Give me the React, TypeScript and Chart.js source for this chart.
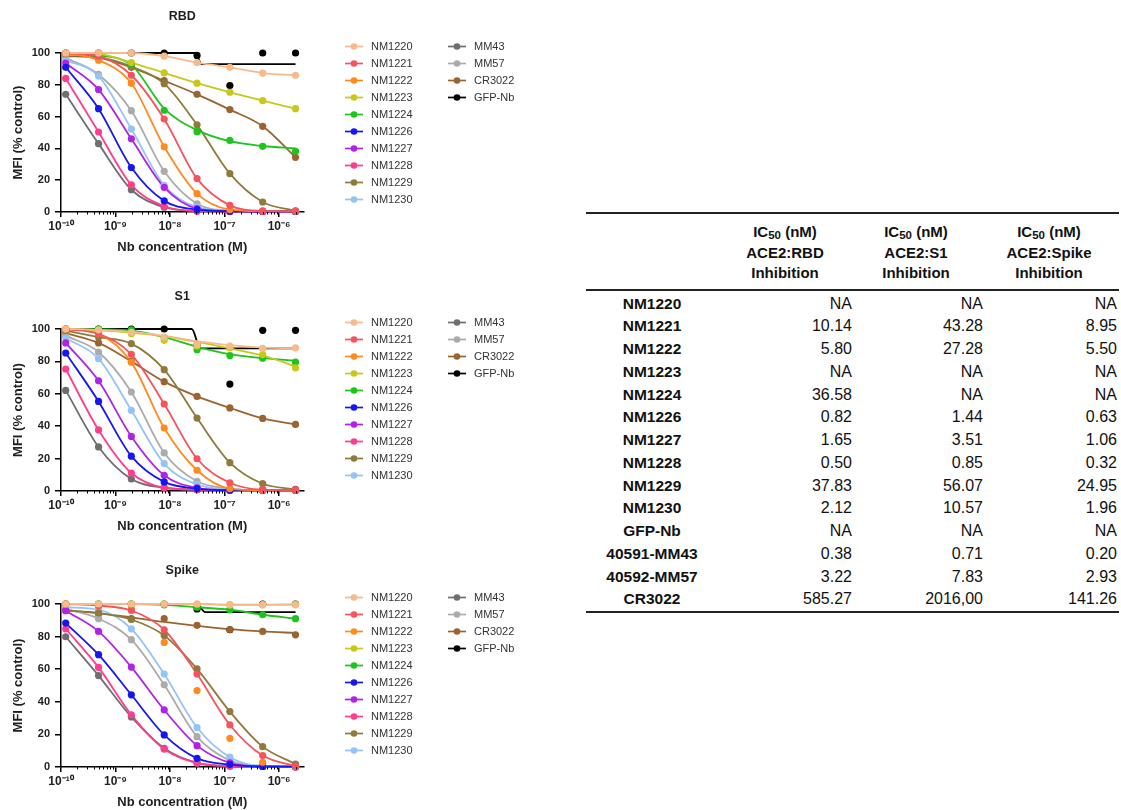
import React, { useEffect, useRef } from 'react';
import { Chart, registerables } from 'chart.js';

Chart.register(...registerables);

const FONT = '"Liberation Sans", Arial, Helvetica, sans-serif';
const TEXT_COLOR = '#1e1e1e';

// ---------- shared axes / series ----------
const CONC = [1.22e-10, 4.88e-10, 1.95e-9, 7.81e-9, 3.125e-8, 1.25e-7, 5e-7, 2e-6];
const X_TICKS = [1e-10, 1e-9, 1e-8, 1e-7, 1e-6];
const X_TICK_LABELS = ['10⁻¹⁰', '10⁻⁹', '10⁻⁸', '10⁻⁷', '10⁻⁶'];
const Y_TICKS = [0, 20, 40, 60, 80, 100];
const X_MIN = 1e-10;
const X_MAX = 2.8e-6;

const SERIES = ['NM1220', 'NM1221', 'NM1222', 'NM1223', 'NM1224', 'NM1226', 'NM1227', 'NM1228', 'NM1229', 'NM1230', 'MM43', 'MM57', 'CR3022', 'GFP-Nb'];
const COLORS = ['#F7BA8C', '#F5535D', '#FF8A1E', '#C8C81C', '#1CC41C', '#1616F0', '#B022E6', '#FF3C8E', '#8E7B3C', '#94C4F7', '#6E6E6E', '#ABABAB', '#9A6430', '#000000'];

// ---------- RBD (% control) ----------
const RBD_NM1220 = [100, 100, 100, 98, 94, 91, 87.4, 86];
const RBD_NM1221 = [100, 98, 86, 58.5, 21, 4.2, 0.6, 0.4];
const RBD_NM1222 = [100, 95.5, 81, 41, 11.5, 1.5, 0.5, 0.4];
const RBD_NM1223 = [100, 99.5, 94, 87.5, 81, 75.3, 70, 65];
const RBD_NM1224 = [100, 98, 93, 64, 50.5, 45, 41.3, 38.2];
const RBD_NM1226 = [91, 65, 28, 7, 1.5, 0.5, 0.3, 0.3];
const RBD_NM1227 = [93.7, 77, 46, 15.5, 2.2, 0.6, 0.3, 0.3];
const RBD_NM1228 = [84, 50.3, 17, 3.6, 0.6, 0.3, 0.3, 0.3];
const RBD_NM1229 = [99.5, 97.5, 91.5, 80.7, 54.8, 24.1, 6.3, 0.8];
const RBD_NM1230 = [95.6, 85.5, 52.2, 16.8, 3, 0.8, 0.5, 0.5];
const RBD_MM43 = [74, 43, 14, 3, 0.6, 0.3, 0.3, 0.3];
const RBD_MM57 = [97, 86.5, 63.7, 25.6, 5.2, 1, 0.5, 0.5];
const RBD_CR3022 = [98, 97, 91, 82.6, 74, 64.4, 53.9, 34.4];
const RBD_GFP = [100, 100, 100, 100, 98.5, 79.5, 100, 100];
// fitted curves that differ from the points
const RBD_NM1224_FIT = [100, 98.5, 92.5, 65, 51.5, 44.5, 41.5, 40];
const RBD_GFP_FIT_X = [1.22e-10, 2.9e-8, 3.8e-8, 2e-6];
const RBD_GFP_FIT_Y = [100, 100, 93, 93];

// ---------- S1 (% control) ----------
const S1_NM1220 = [100, 99.5, 98, 95, 90.5, 89.5, 88, 88.3];
const S1_NM1221 = [100, 97, 84.4, 53.7, 19.9, 5.1, 0.8, 0.5];
const S1_NM1222 = [100, 97, 79.4, 38.9, 12.8, 1.5, 0.5, 0.5];
const S1_NM1223 = [100, 99, 97, 93, 89.5, 88.3, 84.2, 76];
const S1_NM1224 = [100, 100, 99.5, 94.7, 87.2, 83.6, 82, 79.5];
const S1_NM1226 = [85.2, 55.3, 21.5, 5.6, 1.5, 0.5, 0.5, 0.5];
const S1_NM1227 = [91.4, 68, 33.7, 9.7, 2, 0.6, 0.5, 0.5];
const S1_NM1228 = [75.3, 37.7, 11.1, 2, 0.8, 0.5, 0.5, 0.5];
const S1_NM1229 = [99, 95, 91, 74.9, 45, 17.5, 4.5, 1];
const S1_NM1230 = [94.4, 81.7, 49.8, 16.9, 4, 1, 0.5, 0.5];
const S1_MM43 = [62.1, 27.2, 7.4, 2, 0.8, 0.5, 0.5, 0.5];
const S1_MM57 = [95.9, 85.8, 61.1, 23.5, 6, 1.5, 0.5, 0.5];
const S1_CR3022 = [97.5, 91.4, 80, 67.5, 58.4, 51.3, 44.8, 41.1];
const S1_GFP = [100, 100, 100, 100, 90, 66, 99.2, 99.2];
const S1_NM1220_FIT = [100, 99.5, 98.2, 95.8, 92.5, 90, 88.5, 88.2];
const S1_NM1223_FIT = [100, 99.2, 97.8, 95.5, 92, 88, 83.5, 77];
const S1_NM1224_FIT = [100, 99.8, 99, 95, 89, 84.5, 82, 80.5];
const S1_GFP_FIT_X = [1.22e-10, 2.5e-8, 3.6e-8, 2e-6];
const S1_GFP_FIT_Y = [100, 100, 88, 88];

// ---------- Spike (% control) ----------
const SPIKE_NM1220 = [100, 100, 100, 100, 100, 99.5, 99.5, 99.5];
const SPIKE_NM1221 = [100, 99, 96, 84.2, 57, 25.8, 7, 0.5];
const SPIKE_NM1222 = [100, 99.5, 97, 76.4, 46.9, 17.6, 2.9, 0.3];
const SPIKE_NM1223 = [100, 100, 100, 100, 100, 99.6, 99.6, 99.8];
const SPIKE_NM1224 = [100, 100, 100, 99.5, 98, 96.5, 93.4, 91];
const SPIKE_NM1226 = [88.3, 68.9, 44.3, 19.7, 5.3, 1.5, 0.3, 0.2];
const SPIKE_NM1227 = [95.9, 83.2, 61.3, 35, 13.1, 2.5, 0.3, 0.2];
const SPIKE_NM1228 = [84.8, 61.1, 32, 11, 2.5, 0.5, 0.3, 0.2];
const SPIKE_NM1229 = [96, 94.5, 90.5, 80.7, 60.2, 34, 12.5, 1.8];
const SPIKE_NM1230 = [98, 96.5, 84.8, 57, 24.2, 6, 0.6, 0.3];
const SPIKE_MM43 = [79.9, 56.1, 30.7, 11.5, 2.5, 0.5, 0.3, 0.2];
const SPIKE_MM57 = [97, 91, 78.1, 50.4, 18.6, 4, 0.6, 0.3];
const SPIKE_CR3022 = [96, 93.9, 91, 91, 86.9, 84.3, 83.2, 81.1];
const SPIKE_GFP = [100, 100, 100, 100, 97, 84.2, 100, 100];
const SPIKE_CR3022_FIT = [96, 94.3, 91.8, 89, 86.6, 84.6, 83.2, 82.2];
const SPIKE_GFP_FIT_X = [1.22e-10, 3.1e-8, 4.4e-8, 2e-6];
const SPIKE_GFP_FIT_Y = [100, 100, 95, 95];

// ---------- IC50 table ----------
const TABLE_ROW_NAMES = ['NM1220', 'NM1221', 'NM1222', 'NM1223', 'NM1224', 'NM1226', 'NM1227', 'NM1228', 'NM1229', 'NM1230', 'GFP-Nb', '40591-MM43', '40592-MM57', 'CR3022'];
const IC50_RBD = ['NA', '10.14', '5.80', 'NA', '36.58', '0.82', '1.65', '0.50', '37.83', '2.12', 'NA', '0.38', '3.22', '585.27'];
const IC50_S1 = ['NA', '43.28', '27.28', 'NA', 'NA', '1.44', '3.51', '0.85', '56.07', '10.57', 'NA', '0.71', '7.83', '2016,00'];
const IC50_SPIKE = ['NA', '8.95', '5.50', 'NA', 'NA', '0.63', '1.06', '0.32', '24.95', '1.96', 'NA', '0.20', '2.93', '141.26'];
const TABLE_HEADER_TARGETS = ['ACE2:RBD', 'ACE2:S1', 'ACE2:Spike'];

// ---------- layout ----------
const CANVAS_W = 560;
const PAD_TOP = 53;
const X_AXIS_H = 48;
const Y_AXIS_W = 61;
const PLOT_RIGHT = 303.5;
const LEGEND_X = [345, 448];
const LEGEND_DY0 = -6.5;
const LEGEND_STEP = 17;

type Fit = { x: number[]; y: number[] } | null | undefined;

interface PanelDef {
  title: string;
  values: number[][];
  fits: Fit[];
  plotTop: number;
  plotH: number;
  titleDy: number;
}

const onConc = (y: number[]) => ({ x: CONC, y });

const PANELS: PanelDef[] = [
  {
    title: 'RBD',
    values: [RBD_NM1220, RBD_NM1221, RBD_NM1222, RBD_NM1223, RBD_NM1224, RBD_NM1226, RBD_NM1227, RBD_NM1228, RBD_NM1229, RBD_NM1230, RBD_MM43, RBD_MM57, RBD_CR3022, RBD_GFP],
    fits: [undefined, undefined, undefined, undefined, onConc(RBD_NM1224_FIT), undefined, undefined, undefined, undefined, undefined, undefined, undefined, undefined, { x: RBD_GFP_FIT_X, y: RBD_GFP_FIT_Y }],
    plotTop: 53,
    plotH: 159,
    titleDy: -36.5,
  },
  {
    title: 'S1',
    values: [S1_NM1220, S1_NM1221, S1_NM1222, S1_NM1223, S1_NM1224, S1_NM1226, S1_NM1227, S1_NM1228, S1_NM1229, S1_NM1230, S1_MM43, S1_MM57, S1_CR3022, S1_GFP],
    fits: [onConc(S1_NM1220_FIT), undefined, undefined, onConc(S1_NM1223_FIT), onConc(S1_NM1224_FIT), undefined, undefined, undefined, undefined, undefined, undefined, undefined, undefined, { x: S1_GFP_FIT_X, y: S1_GFP_FIT_Y }],
    plotTop: 329,
    plotH: 162,
    titleDy: -32.5,
  },
  {
    title: 'Spike',
    values: [SPIKE_NM1220, SPIKE_NM1221, SPIKE_NM1222, SPIKE_NM1223, SPIKE_NM1224, SPIKE_NM1226, SPIKE_NM1227, SPIKE_NM1228, SPIKE_NM1229, SPIKE_NM1230, SPIKE_MM43, SPIKE_MM57, SPIKE_CR3022, SPIKE_GFP],
    fits: [undefined, undefined, null, undefined, undefined, undefined, undefined, undefined, undefined, undefined, undefined, undefined, onConc(SPIKE_CR3022_FIT), { x: SPIKE_GFP_FIT_X, y: SPIKE_GFP_FIT_Y }],
    plotTop: 604,
    plotH: 163,
    titleDy: -33.5,
  },
];

function decorPlugin(def: PanelDef) {
  return {
    id: 'decor',
    afterDraw(chart: any) {
      const { ctx, chartArea, scales } = chart;
      const xs = scales.x;
      ctx.save();
      // minor ticks on the log axis
      ctx.strokeStyle = '#000';
      ctx.lineWidth = 1;
      for (let e = -10; e <= -6; e++) {
        for (let k = 2; k <= 9; k++) {
          const v = k * Math.pow(10, e);
          if (v > X_MAX) continue;
          const px = Math.round(xs.getPixelForValue(v)) + 0.5;
          ctx.beginPath();
          ctx.moveTo(px, chartArea.bottom);
          ctx.lineTo(px, chartArea.bottom + 2.5);
          ctx.stroke();
        }
      }
      // panel title
      ctx.fillStyle = TEXT_COLOR;
      ctx.font = `bold 12.5px ${FONT}`;
      ctx.textAlign = 'center';
      ctx.textBaseline = 'middle';
      ctx.fillText(def.title, (chartArea.left + chartArea.right) / 2, chartArea.top + def.titleDy);
      // legend
      ctx.font = `11px ${FONT}`;
      ctx.textAlign = 'left';
      SERIES.forEach((name, i) => {
        const col = i < 10 ? 0 : 1;
        const row = i < 10 ? i : i - 10;
        const x0 = LEGEND_X[col];
        const y = chartArea.top + LEGEND_DY0 + row * LEGEND_STEP;
        ctx.strokeStyle = COLORS[i];
        ctx.lineWidth = 1.7;
        ctx.beginPath();
        ctx.moveTo(x0, y);
        ctx.lineTo(x0 + 18, y);
        ctx.stroke();
        ctx.fillStyle = COLORS[i];
        ctx.beginPath();
        ctx.arc(x0 + 9, y, 3.3, 0, Math.PI * 2);
        ctx.fill();
        ctx.fillStyle = '#333';
        ctx.fillText(name, x0 + 26, y + 0.5);
      });
      ctx.restore();
    },
  };
}

function buildConfig(def: PanelDef): any {
  const pointSets = SERIES.map((name, i) => ({
    type: 'scatter',
    label: name,
    data: CONC.map((x, j) => ({ x, y: def.values[i][j] })),
    backgroundColor: COLORS[i],
    borderColor: COLORS[i],
    pointRadius: 3.6,
    pointBorderWidth: 0,
    showLine: false,
    clip: false,
  }));
  const lineSets: any[] = [];
  SERIES.forEach((name, i) => {
    const fit = def.fits[i];
    if (fit === null) return;
    const fx = fit ? fit.x : CONC;
    const fy = fit ? fit.y : def.values[i];
    lineSets.push({
      type: 'line',
      label: name + ' fit',
      data: fx.map((x, j) => ({ x, y: fy[j] })),
      borderColor: COLORS[i],
      backgroundColor: COLORS[i],
      borderWidth: 1.8,
      pointRadius: 0,
      fill: false,
      showLine: true,
      cubicInterpolationMode: 'monotone',
      clip: false,
    });
  });
  const axisFont = { family: FONT, size: 11, weight: 'bold' };
  const xTickFont = { family: FONT, size: 12, weight: 'bold' };
  const titleFont = { family: FONT, size: 13, weight: 'bold' };
  return {
    type: 'scatter',
    data: { datasets: [...pointSets, ...lineSets] },
    options: {
      animation: false,
      responsive: false,
      maintainAspectRatio: false,
      devicePixelRatio: 1,
      events: [],
      layout: { padding: { top: PAD_TOP, left: 0, right: CANVAS_W - PLOT_RIGHT, bottom: 0 } },
      plugins: { legend: { display: false }, title: { display: false }, tooltip: { enabled: false } },
      scales: {
        x: {
          type: 'logarithmic',
          min: X_MIN,
          max: X_MAX,
          afterBuildTicks: (s: any) => {
            s.ticks = X_TICKS.map((v) => ({ value: v, major: true }));
          },
          afterFit: (s: any) => {
            s.height = X_AXIS_H;
          },
          ticks: {
            autoSkip: false,
            maxRotation: 0,
            minRotation: 0,
            padding: 2,
            color: TEXT_COLOR,
            font: xTickFont,
            callback: (_v: any, idx: number) => X_TICK_LABELS[idx],
          },
          grid: { display: true, drawOnChartArea: false, drawTicks: true, tickLength: 5, color: '#000', lineWidth: 1.5 },
          border: { display: true, color: '#000', width: 1.5 },
          title: { display: true, text: 'Nb concentration (M)', color: TEXT_COLOR, font: titleFont, padding: { top: 0, bottom: 5 } },
        },
        y: {
          type: 'linear',
          min: 0,
          max: 100,
          afterBuildTicks: (s: any) => {
            s.ticks = Y_TICKS.map((v) => ({ value: v }));
          },
          afterFit: (s: any) => {
            s.width = Y_AXIS_W;
          },
          ticks: { padding: 5, color: TEXT_COLOR, font: axisFont },
          grid: { display: true, drawOnChartArea: false, drawTicks: true, tickLength: 6, color: '#000', lineWidth: 1.5 },
          border: { display: true, color: '#000', width: 1.5 },
          title: { display: true, text: 'MFI (% control)', color: TEXT_COLOR, font: titleFont, padding: { top: 11, bottom: 0 } },
        },
      },
    },
    plugins: [decorPlugin(def)],
  };
}

function Panel({ def }: { def: PanelDef }) {
  const ref = useRef<HTMLCanvasElement>(null);
  const H = PAD_TOP + def.plotH + X_AXIS_H;
  useEffect(() => {
    const canvas = ref.current;
    if (!canvas) return;
    const chart = new Chart(canvas, buildConfig(def));
    return () => chart.destroy();
  }, [def]);
  return (
    <canvas
      ref={ref}
      width={CANVAS_W}
      height={H}
      style={{ position: 'absolute', left: 0, top: def.plotTop - PAD_TOP, width: CANVAS_W, height: H }}
    />
  );
}

// table geometry
const TABLE_LEFT = 586;
const TABLE_RIGHT = 1119;
const TABLE_TOP_Y = 212;
const HEADER_LINE_Y = 289;
const BOTTOM_LINE_Y = 611;
const HEADER_CENTERS = [785, 916, 1049];
const HEADER_LINE0_Y = 231.5;
const VALUE_RIGHTS = [852, 983, 1117];
const NAME_CENTER = 652;
const ROW0_Y = 303.5;
const ROW_STEP = 22.75;

function IcTable() {
  const cols = [IC50_RBD, IC50_S1, IC50_SPIKE];
  const lineStyle = (y: number, w: number): React.CSSProperties => ({
    position: 'absolute',
    left: TABLE_LEFT,
    top: y,
    width: TABLE_RIGHT - TABLE_LEFT,
    height: w,
    background: '#222',
  });
  return (
    <div style={{ position: 'absolute', left: 0, top: 0, fontFamily: FONT, color: '#111' }}>
      <div style={lineStyle(TABLE_TOP_Y, 1.5)} />
      <div style={lineStyle(HEADER_LINE_Y, 2)} />
      <div style={lineStyle(BOTTOM_LINE_Y, 1.5)} />
      {TABLE_HEADER_TARGETS.map((t, c) => (
        <div
          key={'h' + c}
          style={{
            position: 'absolute',
            left: HEADER_CENTERS[c] - 80,
            width: 160,
            top: HEADER_LINE0_Y - 10,
            textAlign: 'center',
            fontWeight: 'bold',
            fontSize: 15,
            lineHeight: '20px',
            whiteSpace: 'nowrap',
          }}
        >
          <div>
            IC<span style={{ fontSize: 11.5, position: 'relative', top: 2 }}>50</span> (nM)
          </div>
          <div>{t}</div>
          <div>Inhibition</div>
        </div>
      ))}
      {TABLE_ROW_NAMES.map((name, r) => {
        const yc = ROW0_Y + r * ROW_STEP;
        return (
          <React.Fragment key={'r' + r}>
            <div
              style={{
                position: 'absolute',
                left: NAME_CENTER - 80,
                width: 160,
                top: yc - 11,
                height: 22,
                lineHeight: '22px',
                textAlign: 'center',
                fontWeight: 'bold',
                fontSize: 15.5,
                whiteSpace: 'nowrap',
              }}
            >
              {name}
            </div>
            {cols.map((col, c) => (
              <div
                key={c}
                style={{
                  position: 'absolute',
                  left: VALUE_RIGHTS[c] - 120,
                  width: 120,
                  top: yc - 11,
                  height: 22,
                  lineHeight: '22px',
                  textAlign: 'right',
                  fontSize: 16,
                  whiteSpace: 'nowrap',
                }}
              >
                {col[r]}
              </div>
            ))}
          </React.Fragment>
        );
      })}
    </div>
  );
}

export default function App() {
  Chart.defaults.font.family = FONT;
  return (
    <div
      style={{
        position: 'absolute',
        left: 0,
        top: 0,
        width: 1121,
        height: 810,
        overflow: 'hidden',
        background: '#fff',
      }}
    >
      {PANELS.map((p) => (
        <Panel key={p.title} def={p} />
      ))}
      <IcTable />
    </div>
  );
}
